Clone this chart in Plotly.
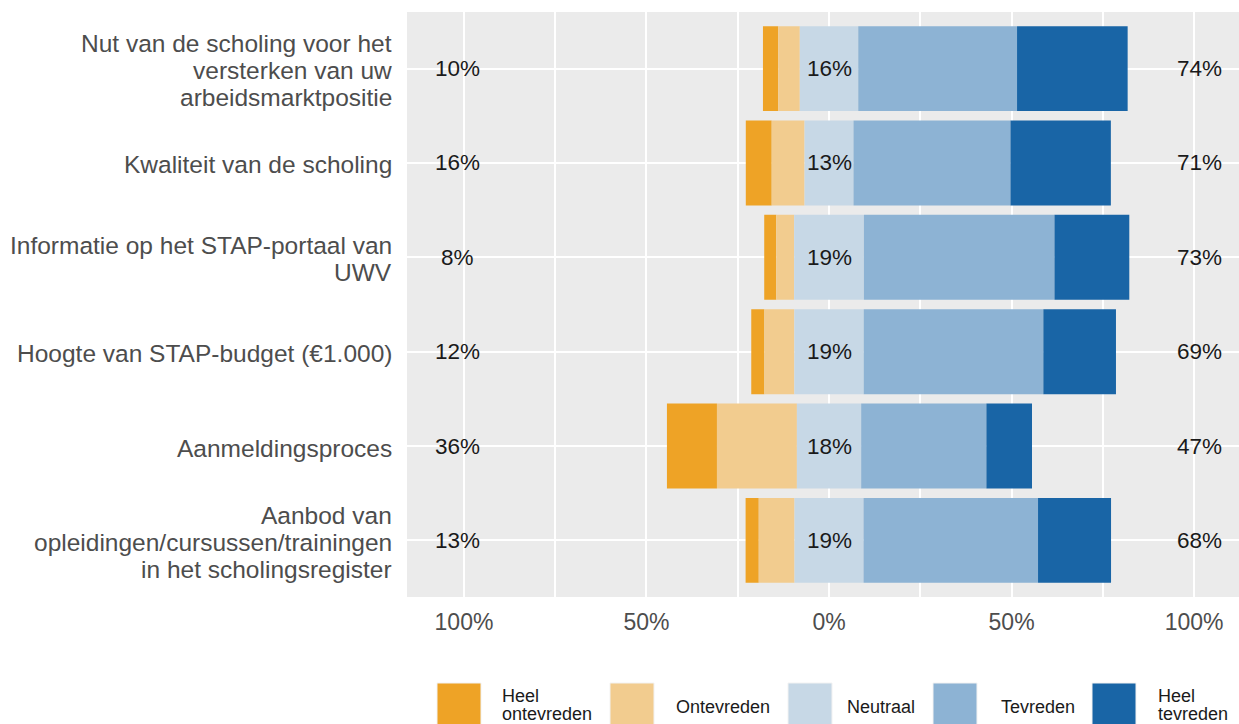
import plotly.graph_objects as go

# ---------------- data ----------------
categories = [
    "Nut van de scholing voor het<br>versterken van uw<br>arbeidsmarktpositie",
    "Kwaliteit van de scholing",
    "Informatie op het STAP-portaal van<br>UWV",
    "Hoogte van STAP-budget (€1.000)",
    "Aanmeldingsproces",
    "Aanbod van<br>opleidingen/cursussen/trainingen<br>in het scholingsregister",
]
heel_ontevreden = [4.2, 7.1, 3.3, 3.6, 13.7, 3.6]
ontevreden = [5.9, 9.0, 4.9, 8.2, 21.9, 9.8]
neutraal = [16.0, 13.4, 19.1, 19.0, 17.6, 18.9]
tevreden = [43.5, 43.0, 52.2, 49.2, 34.3, 47.8]
heel_tevreden = [30.3, 27.5, 20.5, 19.9, 12.5, 20.0]

pct_low = ["10%", "16%", "8%", "12%", "36%", "13%"]
pct_neutral = ["16%", "13%", "19%", "19%", "18%", "19%"]
pct_high = ["74%", "71%", "73%", "69%", "47%", "68%"]

legend_labels = ["Heel<br>ontevreden", "Ontevreden", "Neutraal", "Tevreden", "Heel<br>tevreden"]
tick_vals = [-100, -50, 0, 50, 100]
tick_text = ["100%", "50%", "0%", "50%", "100%"]

# ---------------- style ----------------
colors = ["#EEA326", "#F2CC8F", "#C7D8E6", "#8DB3D4", "#1965A6"]
FONT = "Liberation Sans, Arial, Helvetica, sans-serif"
W, H = 1239, 724
ML, MR, MT, MB = 407, 0, 12, 127

# segment bases computed from the data
half_n = [n / 2 for n in neutraal]
base_o = [-(h + o) for h, o in zip(half_n, ontevreden)]
base_ho = [b - ho for b, ho in zip(base_o, heel_ontevreden)]
base_n = [-h for h in half_n]
base_t = half_n
base_ht = [h + t for h, t in zip(half_n, tevreden)]

segments = [
    (heel_ontevreden, base_ho),
    (ontevreden, base_o),
    (neutraal, base_n),
    (tevreden, base_t),
    (heel_tevreden, base_ht),
]

fig = go.Figure()
for (vals, base), col, name in zip(segments, colors, legend_labels):
    fig.add_trace(go.Bar(
        y=categories, x=vals, base=base, orientation="h",
        marker=dict(color=col, line=dict(width=0)),
        width=0.9, name=name.replace("<br>", " "), showlegend=False,
        hoverinfo="skip",
    ))

annotations = []
# percentage labels
for cat, lo, ne, hi in zip(categories, pct_low, pct_neutral, pct_high):
    for xv, txt, xs in ((-100, lo, -6), (0, ne, 0), (100, hi, 5)):
        annotations.append(dict(
            x=xv, y=cat, xref="x", yref="y", text=txt, showarrow=False,
            xanchor="center", yanchor="middle", xshift=xs,
            font=dict(family=FONT, size=22.5, color="#1A1A1A"),
        ))

# category labels (one annotation per line for tight line spacing)
LINE = 27
for cat in categories:
    lines = cat.split("<br>")
    n = len(lines)
    for i, ln in enumerate(lines):
        annotations.append(dict(
            x=0, y=cat, xref="paper", yref="y", text=ln, showarrow=False,
            xanchor="right", yanchor="middle", xshift=-13,
            yshift=((n - 1) / 2 - i) * LINE - 2,
            font=dict(family=FONT, size=24.5, color="#4D4D4D"),
        ))


def px2x(px):
    return (px - ML) / (W - ML - MR)


def px2y(py):
    return (H - MB - py) / (H - MT - MB)


# legend (drawn manually to get the large key boxes)
box_left = [437, 610, 788, 933, 1092]
text_left = [500, 674, 845, 999, 1156]
BOX_W, BOX_TOP, BOX_BOT = 44, 683, 730
shapes = []
for bx, tx, col, lab in zip(box_left, text_left, colors, legend_labels):
    shapes.append(dict(
        type="rect", xref="paper", yref="paper",
        x0=px2x(bx), x1=px2x(bx + BOX_W), y0=px2y(BOX_BOT), y1=px2y(BOX_TOP),
        fillcolor=col, line=dict(width=1, color="#F2F2F2"), layer="above",
    ))
    lines = lab.split("<br>")
    n = len(lines)
    center = 707 if n == 1 else 705
    for i, ln in enumerate(lines):
        cy = center + (i - (n - 1) / 2) * 18
        annotations.append(dict(
            x=px2x(tx), y=px2y(cy), xref="paper", yref="paper", text=ln,
            showarrow=False, xanchor="left", yanchor="middle",
            font=dict(family=FONT, size=18, color="#1A1A1A"),
        ))

fig.update_layout(
    width=W, height=H, autosize=False,
    margin=dict(l=ML, r=MR, t=MT, b=MB, pad=0),
    paper_bgcolor="white", plot_bgcolor="#EBEBEB",
    barmode="overlay", bargap=0.1,
    font=dict(family=FONT, color="#4D4D4D"),
    annotations=annotations, shapes=shapes,
    showlegend=False,
)
fig.update_xaxes(
    range=[-115.6, 112.3], tickmode="array", tickvals=tick_vals, ticktext=tick_text,
    showgrid=True, gridcolor="white", gridwidth=2,
    minor=dict(dtick=25, tick0=0, showgrid=True, gridcolor="white", gridwidth=2),
    zeroline=False, showline=False, ticks="", ticklabelstandoff=9,
    tickfont=dict(family=FONT, size=23, color="#4D4D4D"), fixedrange=True,
)
fig.update_yaxes(
    type="category", categoryorder="array", categoryarray=categories,
    range=[5.6, -0.6], showticklabels=False, showgrid=True,
    gridcolor="white", gridwidth=2, zeroline=False, ticks="", fixedrange=True,
)

fig.write_html("out.html", config={"displayModeBar": False},
               post_script="document.body.style.margin='0';")
